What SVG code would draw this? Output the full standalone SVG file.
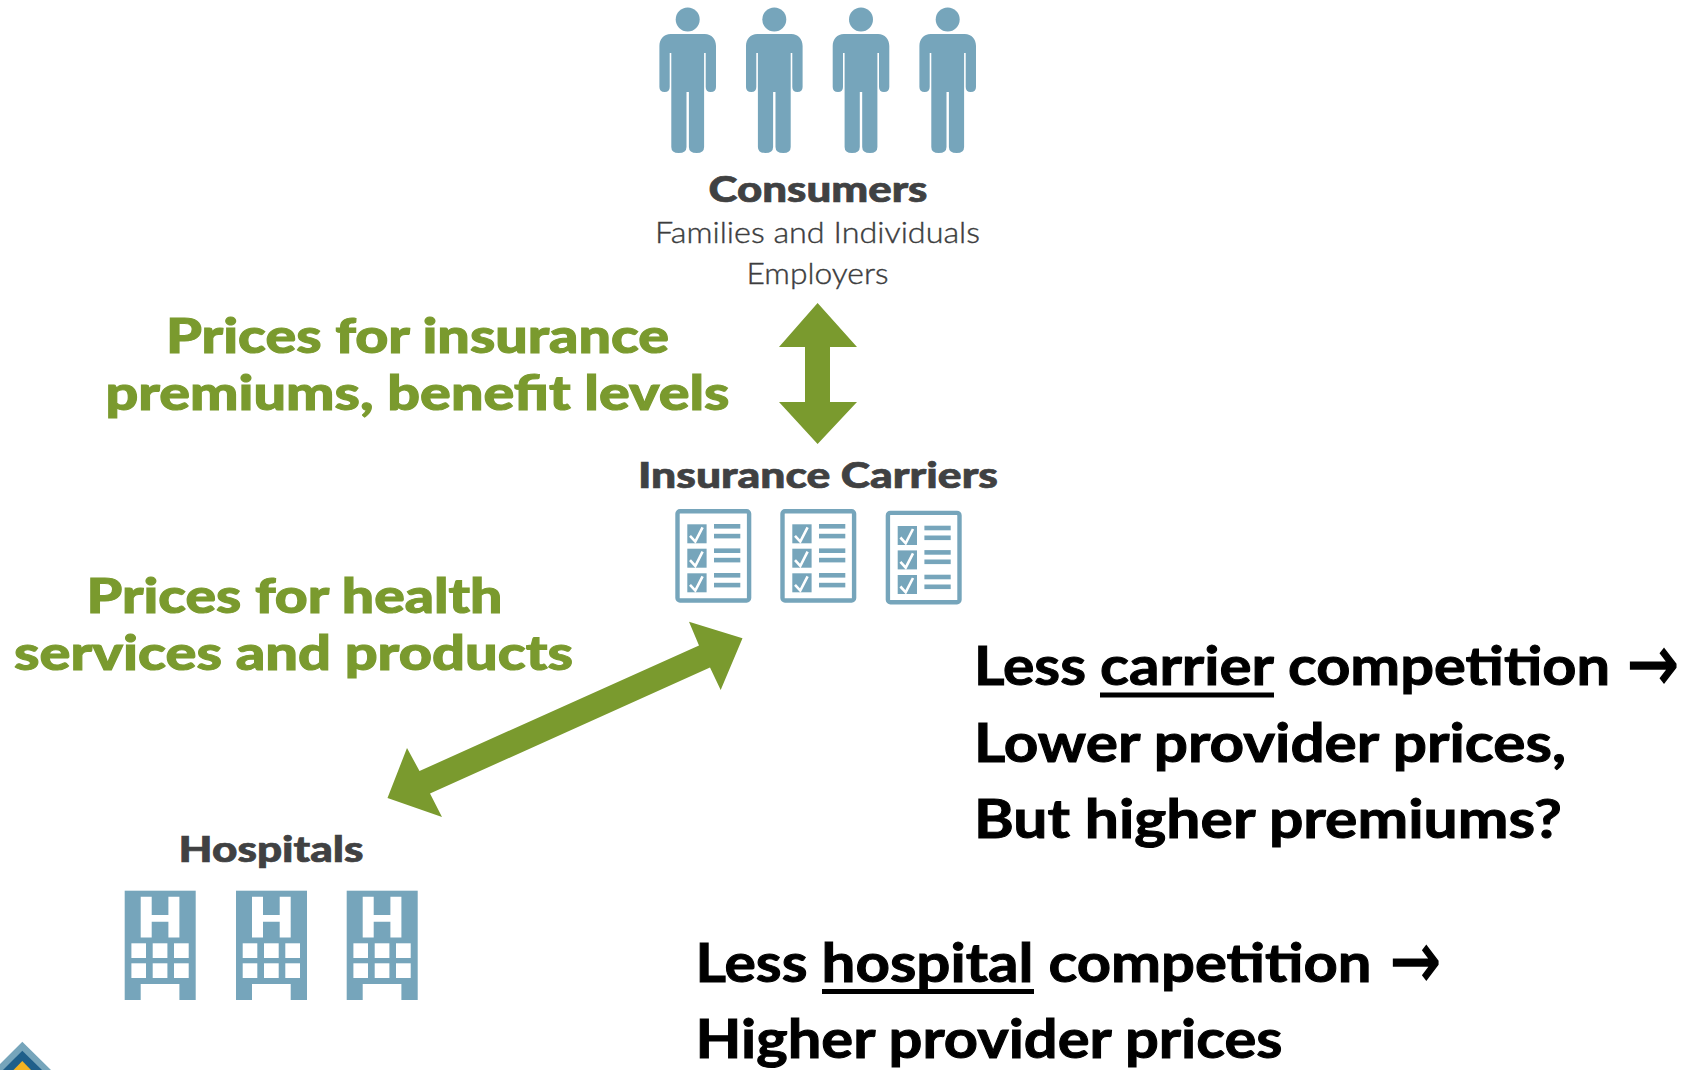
<svg xmlns="http://www.w3.org/2000/svg" xmlns:xlink="http://www.w3.org/1999/xlink" width="1702" height="1070" viewBox="0 0 1702 1070">
<style>
text{font-family:"Lato","Liberation Sans",sans-serif}
.blue{fill:#76a5bb}
.white{fill:#fff}
.head{font-weight:900;font-size:36px;fill:#404142;stroke:#404142;stroke-width:.7px}
.sub{font-weight:300;font-size:30px;fill:#3c3d3e;stroke:#3c3d3e;stroke-width:.4px}
.green{font-weight:900;font-size:47px;fill:#7a9a2e;stroke:#7a9a2e;stroke-width:1px}
.big{font-weight:700;font-size:54px;fill:#000;stroke:#000;stroke-width:1px}
.glyph{font-family:"DejaVu Sans",sans-serif;font-weight:400;font-size:80px;fill:#000;stroke:#000;stroke-width:1.6px}
.arrow{fill:#7a9a2e}
.ul{fill:#000}
</style>
<defs>
<g id="person">
<circle class="blue" cx="0" cy="19.5" r="12"/>
<path class="blue" d="M-17,34H17C24,34 28.3,39 28.3,46V87Q28.3,92 23,92Q18,92 18,87V53H16.4V147Q16.4,153 9,153Q1.2,153 1.2,147V92H-1.2V147Q-1.2,153 -9,153Q-16.4,153 -16.4,147V53H-18V87Q-18,92 -23,92Q-28.3,92 -28.3,87V46C-28.3,39 -24,34 -17,34Z"/>
</g>
<g id="check"><rect class="blue" width="19.3" height="19"/><path d="M2.7,11.5L8,17.3L15.3,3" fill="none" stroke="#fff" stroke-width="2.6"/></g>
<g id="clipboard">
<rect x="2.2" y="2.2" width="71.6" height="89.3" rx="2.5" fill="#fff" stroke="#76a5bb" stroke-width="4.4"/>
<use href="#check" x="12" y="15.3"/><use href="#check" x="12" y="39.7"/><use href="#check" x="12" y="64.3"/>
<g class="blue"><rect x="38.7" y="15" width="26.3" height="4.6"/><rect x="38.7" y="24.8" width="26.3" height="4.6"/><rect x="38.7" y="39.4" width="26.3" height="4.6"/><rect x="38.7" y="48.8" width="26.3" height="4.6"/><rect x="38.7" y="64" width="26.3" height="4.6"/><rect x="38.7" y="73.8" width="26.3" height="4.6"/></g>
</g>
<g id="hospital">
<rect class="blue" width="71" height="109.3"/>
<path class="white" d="M16,6H27V24.3H43.7V6H54.7V46.7H43.7V31H27V46.7H16Z"/>
<g class="white">
<rect x="6.7" y="52.6" width="14.6" height="14.7"/><rect x="28" y="52.6" width="14.7" height="14.7"/><rect x="49.3" y="52.6" width="14.7" height="14.7"/>
<rect x="6.7" y="72.6" width="14.6" height="14.7"/><rect x="28" y="72.6" width="14.7" height="14.7"/><rect x="49.3" y="72.6" width="14.7" height="14.7"/>
<rect x="16" y="93.3" width="38.7" height="16"/>
</g>
</g>
</defs>
<rect width="1702" height="1070" fill="#fff"/>
<g id="consumers">
<use href="#person" x="687.7"/><use href="#person" x="774.3"/><use href="#person" x="861"/><use href="#person" x="947.7"/>
<text class="head" x="708.5" y="201.5" textLength="219" lengthAdjust="spacingAndGlyphs">Consumers</text>
<text class="sub" x="655" y="243" textLength="325" lengthAdjust="spacingAndGlyphs">Families and Individuals</text>
<text class="sub" x="746.5" y="284" textLength="142" lengthAdjust="spacingAndGlyphs">Employers</text>
</g>
<g id="insurance-carriers">
<text class="head" x="638" y="488.3" textLength="360" lengthAdjust="spacingAndGlyphs">Insurance Carriers</text>
<use href="#clipboard" x="675.3" y="509"/><use href="#clipboard" x="780.3" y="509"/><use href="#clipboard" x="885.7" y="510.7"/>
</g>
<g id="hospitals">
<text class="head" x="178.5" y="862.3" textLength="185" lengthAdjust="spacingAndGlyphs">Hospitals</text>
<use href="#hospital" x="124.7" y="890.7"/><use href="#hospital" x="236" y="890.7"/><use href="#hospital" x="346.7" y="890.7"/>
</g>
<g id="connectors">
<polygon class="arrow" points="817.6,303 857,347 830,347 830,402 857,402 817.6,444 779,402 805,402 805,347 779,347"/>
<polygon class="arrow" points="742.5,638.3 689,621.7 699,645.5 419.5,771 407,748 387.5,798 442,817 430,793.5 710,667.5 720.7,690"/>
</g>
<g id="label-premiums">
<text class="green" x="166" y="352.5" textLength="503" lengthAdjust="spacingAndGlyphs">Prices for insurance</text>
<text class="green" x="105.5" y="409.5" textLength="624" lengthAdjust="spacingAndGlyphs">premiums, benefit levels</text>
</g>
<g id="label-services">
<text class="green" x="86.5" y="612.5" textLength="416" lengthAdjust="spacingAndGlyphs">Prices for health</text>
<text class="green" x="14" y="669.5" textLength="559" lengthAdjust="spacingAndGlyphs">services and products</text>
</g>
<g id="note-carrier">
<text class="big" x="974" y="685" textLength="112" lengthAdjust="spacingAndGlyphs">Less</text>
<text class="big" x="1100" y="685" textLength="174" lengthAdjust="spacingAndGlyphs">carrier</text>
<rect class="ul" x="1100" y="692.5" width="174" height="5"/>
<text class="big" x="1288" y="685" textLength="322" lengthAdjust="spacingAndGlyphs">competition</text>
<text class="glyph" x="1627" y="691" textLength="52" lengthAdjust="spacingAndGlyphs">→</text>
<text class="big" x="974" y="761.7" textLength="592" lengthAdjust="spacingAndGlyphs">Lower provider prices,</text>
<text class="big" x="974" y="838" textLength="588" lengthAdjust="spacingAndGlyphs">But higher premiums?</text>
</g>
<g id="note-hospital">
<text class="big" x="695.5" y="982" textLength="112" lengthAdjust="spacingAndGlyphs">Less</text>
<text class="big" x="821.5" y="982" textLength="212" lengthAdjust="spacingAndGlyphs">hospital</text>
<rect class="ul" x="822" y="989" width="212" height="5"/>
<text class="big" x="1048.5" y="982" textLength="323" lengthAdjust="spacingAndGlyphs">competition</text>
<text class="glyph" x="1390" y="988" textLength="51" lengthAdjust="spacingAndGlyphs">→</text>
<text class="big" x="695.5" y="1058" textLength="587" lengthAdjust="spacingAndGlyphs">Higher provider prices</text>
</g>
<g id="logo">
<polygon points="22.3,1041.7 51,1070 0,1070 0,1041.7 0,1064" fill="#76a5bb"/>
<polygon points="22.3,1050.7 42,1070 3,1070" fill="#1f5f8a"/>
<polygon points="22.3,1061 31,1070 13.5,1070" fill="#f4b321"/>
</g>
</svg>
